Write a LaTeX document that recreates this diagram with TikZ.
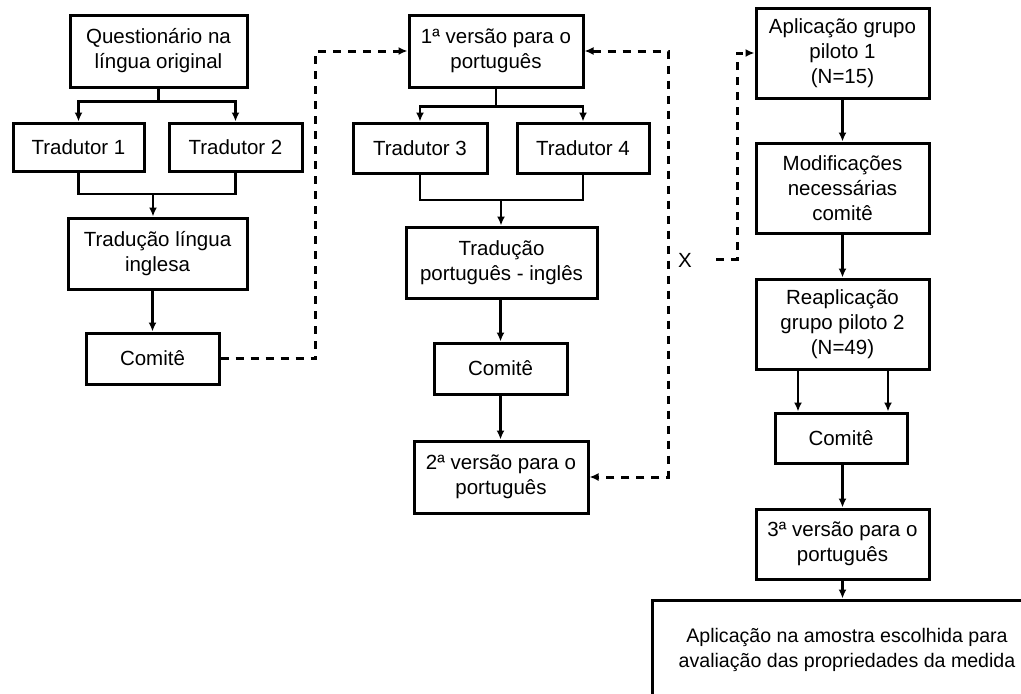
\documentclass[tikz,border=0pt]{standalone}
\usepackage{fontspec}
\setmainfont{Liberation Sans}
\usetikzlibrary{arrows.meta}

\begin{document}
\begin{tikzpicture}[x=1pt,y=-1pt,
    caixa/.style={draw, line width=3pt, align=center, inner sep=0pt, font=\fontsize{20.5}{25}\selectfont},
    seta/.style={line width=2.7pt, -{Latex[length=9pt,width=8pt]}},
    linha/.style={line width=2.7pt},
    tracejado/.style={line width=3pt, dash pattern=on 8pt off 7pt}]
    \useasboundingbox (0,0) rectangle (1021,694);
    \clip (0,0) rectangle (1021,694);
    % primeira coluna
    \node[caixa, minimum width=177pt, minimum height=72pt] (quest) at (158.5,51) {Questionário na\\língua original};
    \node[caixa, minimum width=131pt, minimum height=48pt] (trad1) at (78.5,147) {Tradutor 1};
    \node[caixa, minimum width=133pt, minimum height=48pt] (trad2) at (235.5,147) {Tradutor 2};
    \node[caixa, minimum width=179pt, minimum height=71pt] (ingl) at (157.5,253.5) {Tradução língua\\inglesa};
    \node[caixa, minimum width=133pt, minimum height=51pt] (com1) at (152.5,358.5) {Comitê};
    \coordinate (m1) at (153,194);
    \draw[seta] (quest.south) -- ++(0,13) -| (trad1.north);
    \draw[seta] (quest.south) -- ++(0,13) -| (trad2.north);
    \draw[linha] (trad1.south) |- (m1) -| (trad2.south);
    \draw[seta] (m1) -- (ingl.north -| m1);
    \draw[seta] (ingl.south -| com1) -- (com1.north);
    % segunda coluna
    \node[caixa, minimum width=174pt, minimum height=72pt] (vers1) at (496,51) {1ª versão para o\\português};
    \node[caixa, minimum width=134pt, minimum height=50pt] (trad3) at (420,148) {Tradutor 3};
    \node[caixa, minimum width=132pt, minimum height=50pt] (trad4) at (583,148) {Tradutor 4};
    \node[caixa, minimum width=191pt, minimum height=71pt] (ptin) at (501.5,262.5) {Tradução\\português - inglês};
    \node[caixa, minimum width=133pt, minimum height=51pt] (com2) at (500.5,368.5) {Comitê};
    \node[caixa, minimum width=174pt, minimum height=72pt] (vers2) at (501,477) {2ª versão para o\\português};
    \coordinate (m2) at (501,200);
    \draw[seta] (vers1.south) -- ++(0,18) -| (trad3.north);
    \draw[seta] (vers1.south) -- ++(0,18) -| (trad4.north);
    \draw[linha] (trad3.south) |- (m2) -| (trad4.south);
    \draw[seta] (m2) -- (ptin.north -| m2);
    \draw[seta] (ptin.south -| com2) -- (com2.north);
    \draw[seta] (com2.south) -- (vers2.north -| com2);
    % terceira coluna
    \node[caixa, minimum width=173pt, minimum height=90pt] (apl1) at (842.5,53) {Aplicação grupo\\piloto 1\\(N=15)};
    \node[caixa, minimum width=173pt, minimum height=90pt] (modif) at (842.5,188) {Modificações\\necessárias\\comitê};
    \node[caixa, minimum width=173pt, minimum height=90pt] (reapl) at (842.5,324) {Reaplicação\\grupo piloto 2\\(N=49)};
    \node[caixa, minimum width=132pt, minimum height=50pt] (com3) at (841,438) {Comitê};
    \node[caixa, minimum width=173pt, minimum height=70pt] (vers3) at (842.5,544) {3ª versão para o\\português};
    \node[caixa, minimum width=390pt, minimum height=100pt, font=\fontsize{19.6}{25}\selectfont] (final) at (847,650) {Aplicação na amostra escolhida para\\avaliação das propriedades da medida};
    \draw[seta] (apl1.south) -- (modif.north);
    \draw[seta] (modif.south) -- (reapl.north);
    \draw[seta] ([xshift=-44.5pt]reapl.south) -- ([xshift=-44.5pt]reapl.south |- com3.north);
    \draw[seta] ([xshift=45.5pt]reapl.south) -- ([xshift=45.5pt]reapl.south |- com3.north);
    \draw[seta] (com3.south -| vers3) -- (vers3.north);
    \draw[seta] (vers3.south) -- (final.north -| vers3);
    % ligacoes tracejadas
    \node[font=\fontsize{20.5}{24}\selectfont, inner sep=0pt] (xis) at (685,260) {X};
    \coordinate (dir) at (668,51);
    \coordinate (xini) at (716,259);
    \draw[tracejado, -{Latex[length=9pt,width=8pt]}] (com1.east) -- ++(95,0) |- (vers1.west);
    \draw[tracejado, {Latex[length=9pt,width=8pt]}-{Latex[length=9pt,width=8pt]}] (vers1.east) -- (dir) |- (vers2.east);
    \draw[tracejado, -{Latex[length=9pt,width=8pt]}] (xini) -- ++(21,0) |- (apl1.west);
\end{tikzpicture}
\end{document}
